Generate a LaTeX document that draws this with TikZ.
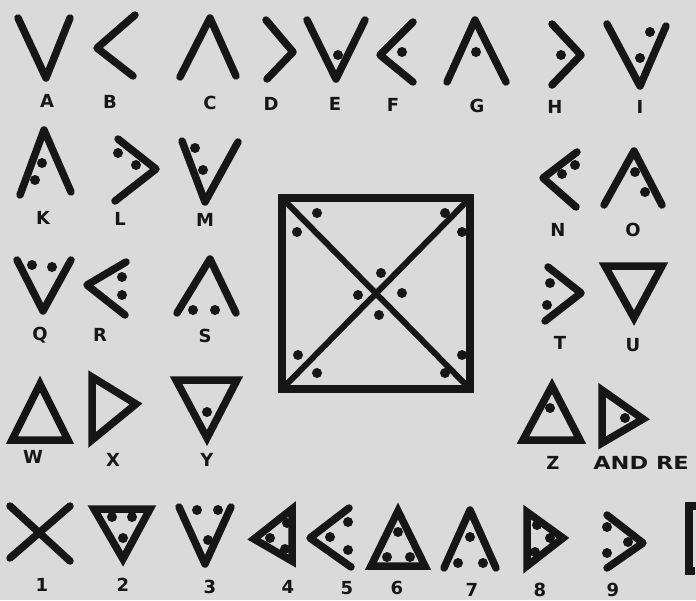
\documentclass[tikz,border=0pt]{standalone}
\usepackage{fontspec}
\setmainfont{DejaVu Sans}
\definecolor{paper}{RGB}{218,218,218}
\definecolor{ink}{RGB}{22,22,22}
\tikzset{
    chev/.style={ink,line width=7.5pt,line cap=round,line join=round},
    tri/.style={ink,line width=7.5pt,line join=miter},
    frame/.style={ink,line width=8.5pt,line join=miter},
    lab/.style={ink,inner sep=0pt,font=\fontsize{18}{18}\selectfont\bfseries}
}
\newcommand{\pips}[1]{\foreach \p in {#1} \fill[ink] \p circle[radius=5pt];}

\begin{document}
\begin{tikzpicture}[x=1pt,y=-1pt]
    \fill[paper] (0,0) rectangle (696,600);
    \clip (0,0) rectangle (696,600);
    \useasboundingbox (0,0) rectangle (696,600);
    % first row
    \draw[chev] (18,18)--(46,78)--(70,18);
    \draw[chev] (135,15)--(97,48)--(133,76);
    \draw[chev] (180,77)--(210,18)--(236,76);
    \draw[chev] (266,20)--(293,52)--(267,79);
    \draw[chev] (307,20)--(336,79)--(365,20); \pips{(338,55)}
    \draw[chev] (413,22)--(380,55)--(413,82); \pips{(402,52)}
    \draw[chev] (447,82)--(475,20)--(506,82); \pips{(476,52)}
    \draw[chev] (552,24)--(581,55)--(552,85); \pips{(561,55)}
    \draw[chev] (607,24)--(640,86)--(666,26); \pips{(650,32),(640,58)}
    % second row
    \draw[chev] (20,195)--(44,130)--(71,192); \pips{(42,163),(35,180)}
    \draw[chev] (118,139)--(156,169)--(115,201); \pips{(118,153),(136,165)}
    \draw[chev] (182,141)--(205,202)--(238,142); \pips{(195,148),(203,170)}
    \draw[chev] (577,152)--(543,178)--(576,207); \pips{(575,165),(562,174)}
    \draw[chev] (604,205)--(634,151)--(662,205); \pips{(635,172),(645,192)}
    % third row
    \draw[chev] (17,260)--(43,311)--(71,260); \pips{(32,265),(52,267)}
    \draw[chev] (126,262)--(87,285)--(125,315); \pips{(122,277),(122,295)}
    \draw[chev] (177,313)--(210,259)--(236,313); \pips{(193,310),(215,310)}
    \draw[chev] (548,267)--(581,293)--(545,321); \pips{(550,283),(547,305)}
    \draw[tri] (605,266)--(662,266)--(634,318)--cycle;
    % fourth row
    \draw[tri] (40,384)--(12,440)--(68,440)--cycle;
    \draw[tri] (92,377)--(92,440)--(136,404)--cycle;
    \draw[tri] (176,380)--(237,380)--(207,438)--cycle; \pips{(207,412)}
    \draw[tri] (552,386)--(523,440)--(580,440)--cycle; \pips{(550,408)}
    \draw[tri] (602,390)--(602,443)--(643,419)--cycle; \pips{(625,418)}
    % fifth row
    \draw[chev] (10,506)--(70,561); \draw[chev] (70,506)--(10,558);
    \draw[tri] (94,509)--(150,509)--(123,559)--cycle; \pips{(112,517),(132,517),(123,538)}
    \draw[chev] (179,507)--(205,564)--(231,507); \pips{(197,510),(218,510),(208,540)}
    \draw[tri] (292,509)--(292,561)--(254,539)--cycle; \pips{(287,523),(270,538),(285,549)}
    \draw[chev] (349,508)--(310,538)--(351,567); \pips{(348,522),(330,537),(348,550)}
    \draw[tri] (398,511)--(371,566)--(425,566)--cycle; \pips{(398,532),(387,557),(410,557)}
    \draw[chev] (444,568)--(470,510)--(496,568); \pips{(470,537),(458,563),(483,563)}
    \draw[tri] (527,512)--(527,566)--(563,538)--cycle; \pips{(537,525),(550,538),(535,552)}
    \draw[chev] (607,515)--(643,543)--(607,568); \pips{(607,527),(628,542),(607,553)}
    \draw[frame] (700,506)--(689,506)--(689,571)--(695,571);
    % key square
    \coordinate (nw) at (282,198); \coordinate (ne) at (470,198);
    \coordinate (sw) at (282,389); \coordinate (se) at (470,389);
    \draw[frame] (nw) rectangle (se);
    \draw[ink,line width=6pt] (nw)--(se); \draw[ink,line width=6pt] (ne)--(sw);
    \pips{(317,213),(297,232),(445,213),(462,232),(381,273),(358,295),(402,293),(379,315),(298,355),(317,373),(462,355),(445,373)}
    % letters and figures
    \foreach \t/\x/\y in {A/47/101,B/110/102,C/210/103,D/271/104,E/335/104,F/393/105,G/477/106,H/555/107,I/640/107,
        K/43/218,L/120/219,M/205/220,N/558/230,O/633/230,Q/40/335,R/100/335,S/205/336,T/560/343,U/633/345,
        W/33/457,X/113/460,Y/207/460,Z/553/463,1/42/585,2/123/585,3/210/587,4/288/587,5/347/588,6/397/588,7/472/590,8/540/590,9/613/590}
        \node[lab] (lab\t) at (\x,\y) {\t};
    \node[lab,anchor=west,xscale=1.25] (rest) at (593,463) {AND RE};
\end{tikzpicture}
\end{document}
